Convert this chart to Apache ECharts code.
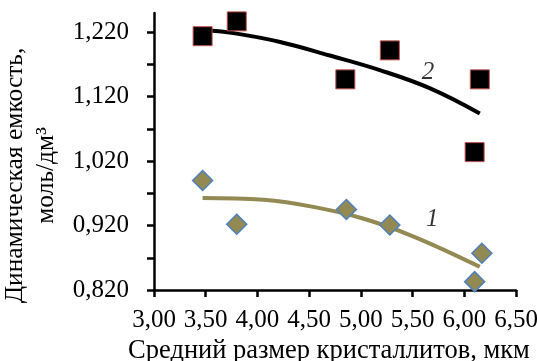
<!DOCTYPE html>
<html><head><meta charset="utf-8">
<script src="https://cdn.jsdelivr.net/npm/echarts@6/dist/echarts.min.js"></script>
<style>html,body{margin:0;padding:0;background:#fff}#c{width:537px;height:361px}</style>
</head><body><div id="c"></div>
<script>
// Series 1 (diamonds) measured points
const x1 = [3.47, 3.80, 4.86, 5.28, 6.17, 6.10];
const y1 = [0.990, 0.922, 0.945, 0.921, 0.877, 0.833];
// Series 2 (squares) measured points
const x2 = [3.47, 3.80, 4.85, 5.28, 6.15, 6.10];
const y2 = [1.214, 1.237, 1.147, 1.192, 1.147, 1.034];
// Trend line 1
const tx1 = [3.47, 4.06, 4.54, 5.02, 5.51, 6.15];
const ty1 = [0.963, 0.960, 0.949, 0.931, 0.903, 0.856];
// Trend line 2
const tx2 = [3.47, 3.80, 4.22, 4.70, 5.19, 5.67, 6.15];
const ty2 = [1.224, 1.218, 1.205, 1.184, 1.161, 1.133, 1.094];
// Tick values
const yTicks = [0.82, 0.87, 0.92, 0.97, 1.02, 1.07, 1.12, 1.17, 1.22];
const yLabels = [0.82, 0.92, 1.02, 1.12, 1.22];
const xLabel = 'Средний размер кристаллитов, мкм';
const yLabel = 'Динамическая емкость,\nмоль/дм³';
const curveLabels = ['1', '2'];
const curveLabelPos = [[5.69, 0.930], [5.65, 1.158]];

const zip = (a, b) => a.map((v, i) => [v, b[i]]);
const font = 'Liberation Serif, Times New Roman, serif';
const chart = echarts.init(document.getElementById('c'), null, {renderer: 'canvas'});
chart.setOption({
  animation: false,
  grid: {left: 154, right: 21, top: 13, bottom: 71, containLabel: false, outerBoundsMode: 'none'},
  xAxis: {
    type: 'value', min: 3, max: 6.5, interval: 0.5,
    name: xLabel, nameLocation: 'middle', nameGap: 45,
    nameTextStyle: {fontFamily: font, fontSize: 26.5, color: '#000', padding: [0, 12, 0, 0]},
    axisLine: {lineStyle: {color: '#000', width: 2.5}},
    axisTick: {inside: false, length: 7, lineStyle: {color: '#000', width: 2.5}},
    axisLabel: {fontFamily: font, fontSize: 25, color: '#000', margin: 18,
      formatter: v => v.toFixed(2).replace('.', ',')},
    splitLine: {show: false}
  },
  yAxis: {
    type: 'value', min: 0.82, max: 1.25,
    name: yLabel, nameLocation: 'middle', nameGap: 75, nameRotate: 90,
    nameTextStyle: {fontFamily: font, fontSize: 25.5, color: '#000', lineHeight: 31, align: 'center',
      padding: [0, 48, 0, 0]},
    axisLine: {show: true, lineStyle: {color: '#000', width: 2.5}},
    axisTick: {show: true, length: 7, customValues: yTicks, lineStyle: {color: '#000', width: 2.5}},
    axisLabel: {fontFamily: font, fontSize: 25, color: '#000', margin: 25, customValues: yLabels,
      formatter: v => v.toFixed(3).replace('.', ',')},
    splitLine: {show: false}
  },
  series: [
    {type: 'line', data: zip(tx1, ty1), smooth: 0.4, symbol: 'none',
      lineStyle: {color: '#938953', width: 4}, z: 2},
    {type: 'line', data: zip(tx2, ty2), smooth: 0.4, symbol: 'none',
      lineStyle: {color: '#000', width: 4}, z: 2},
    {type: 'scatter', data: zip(x1, y1), symbol: 'diamond', symbolSize: [20, 20],
      itemStyle: {color: '#938953', borderColor: '#4f81bd', borderWidth: 1.5, opacity: 1}, z: 3},
    {type: 'scatter', data: zip(x2, y2), symbol: 'rect', symbolSize: 19,
      itemStyle: {color: '#000', borderColor: '#c0504d', borderWidth: 1, opacity: 1}, z: 3},
    {type: 'scatter', data: curveLabels.map((t, i) => ({value: curveLabelPos[i], name: t})),
      symbolSize: 0, silent: true,
      label: {show: true, position: 'inside', formatter: p => p.name,
        fontFamily: font, fontStyle: 'italic', fontSize: 25, color: '#000'}, z: 4}
  ]
});
</script></body></html>
